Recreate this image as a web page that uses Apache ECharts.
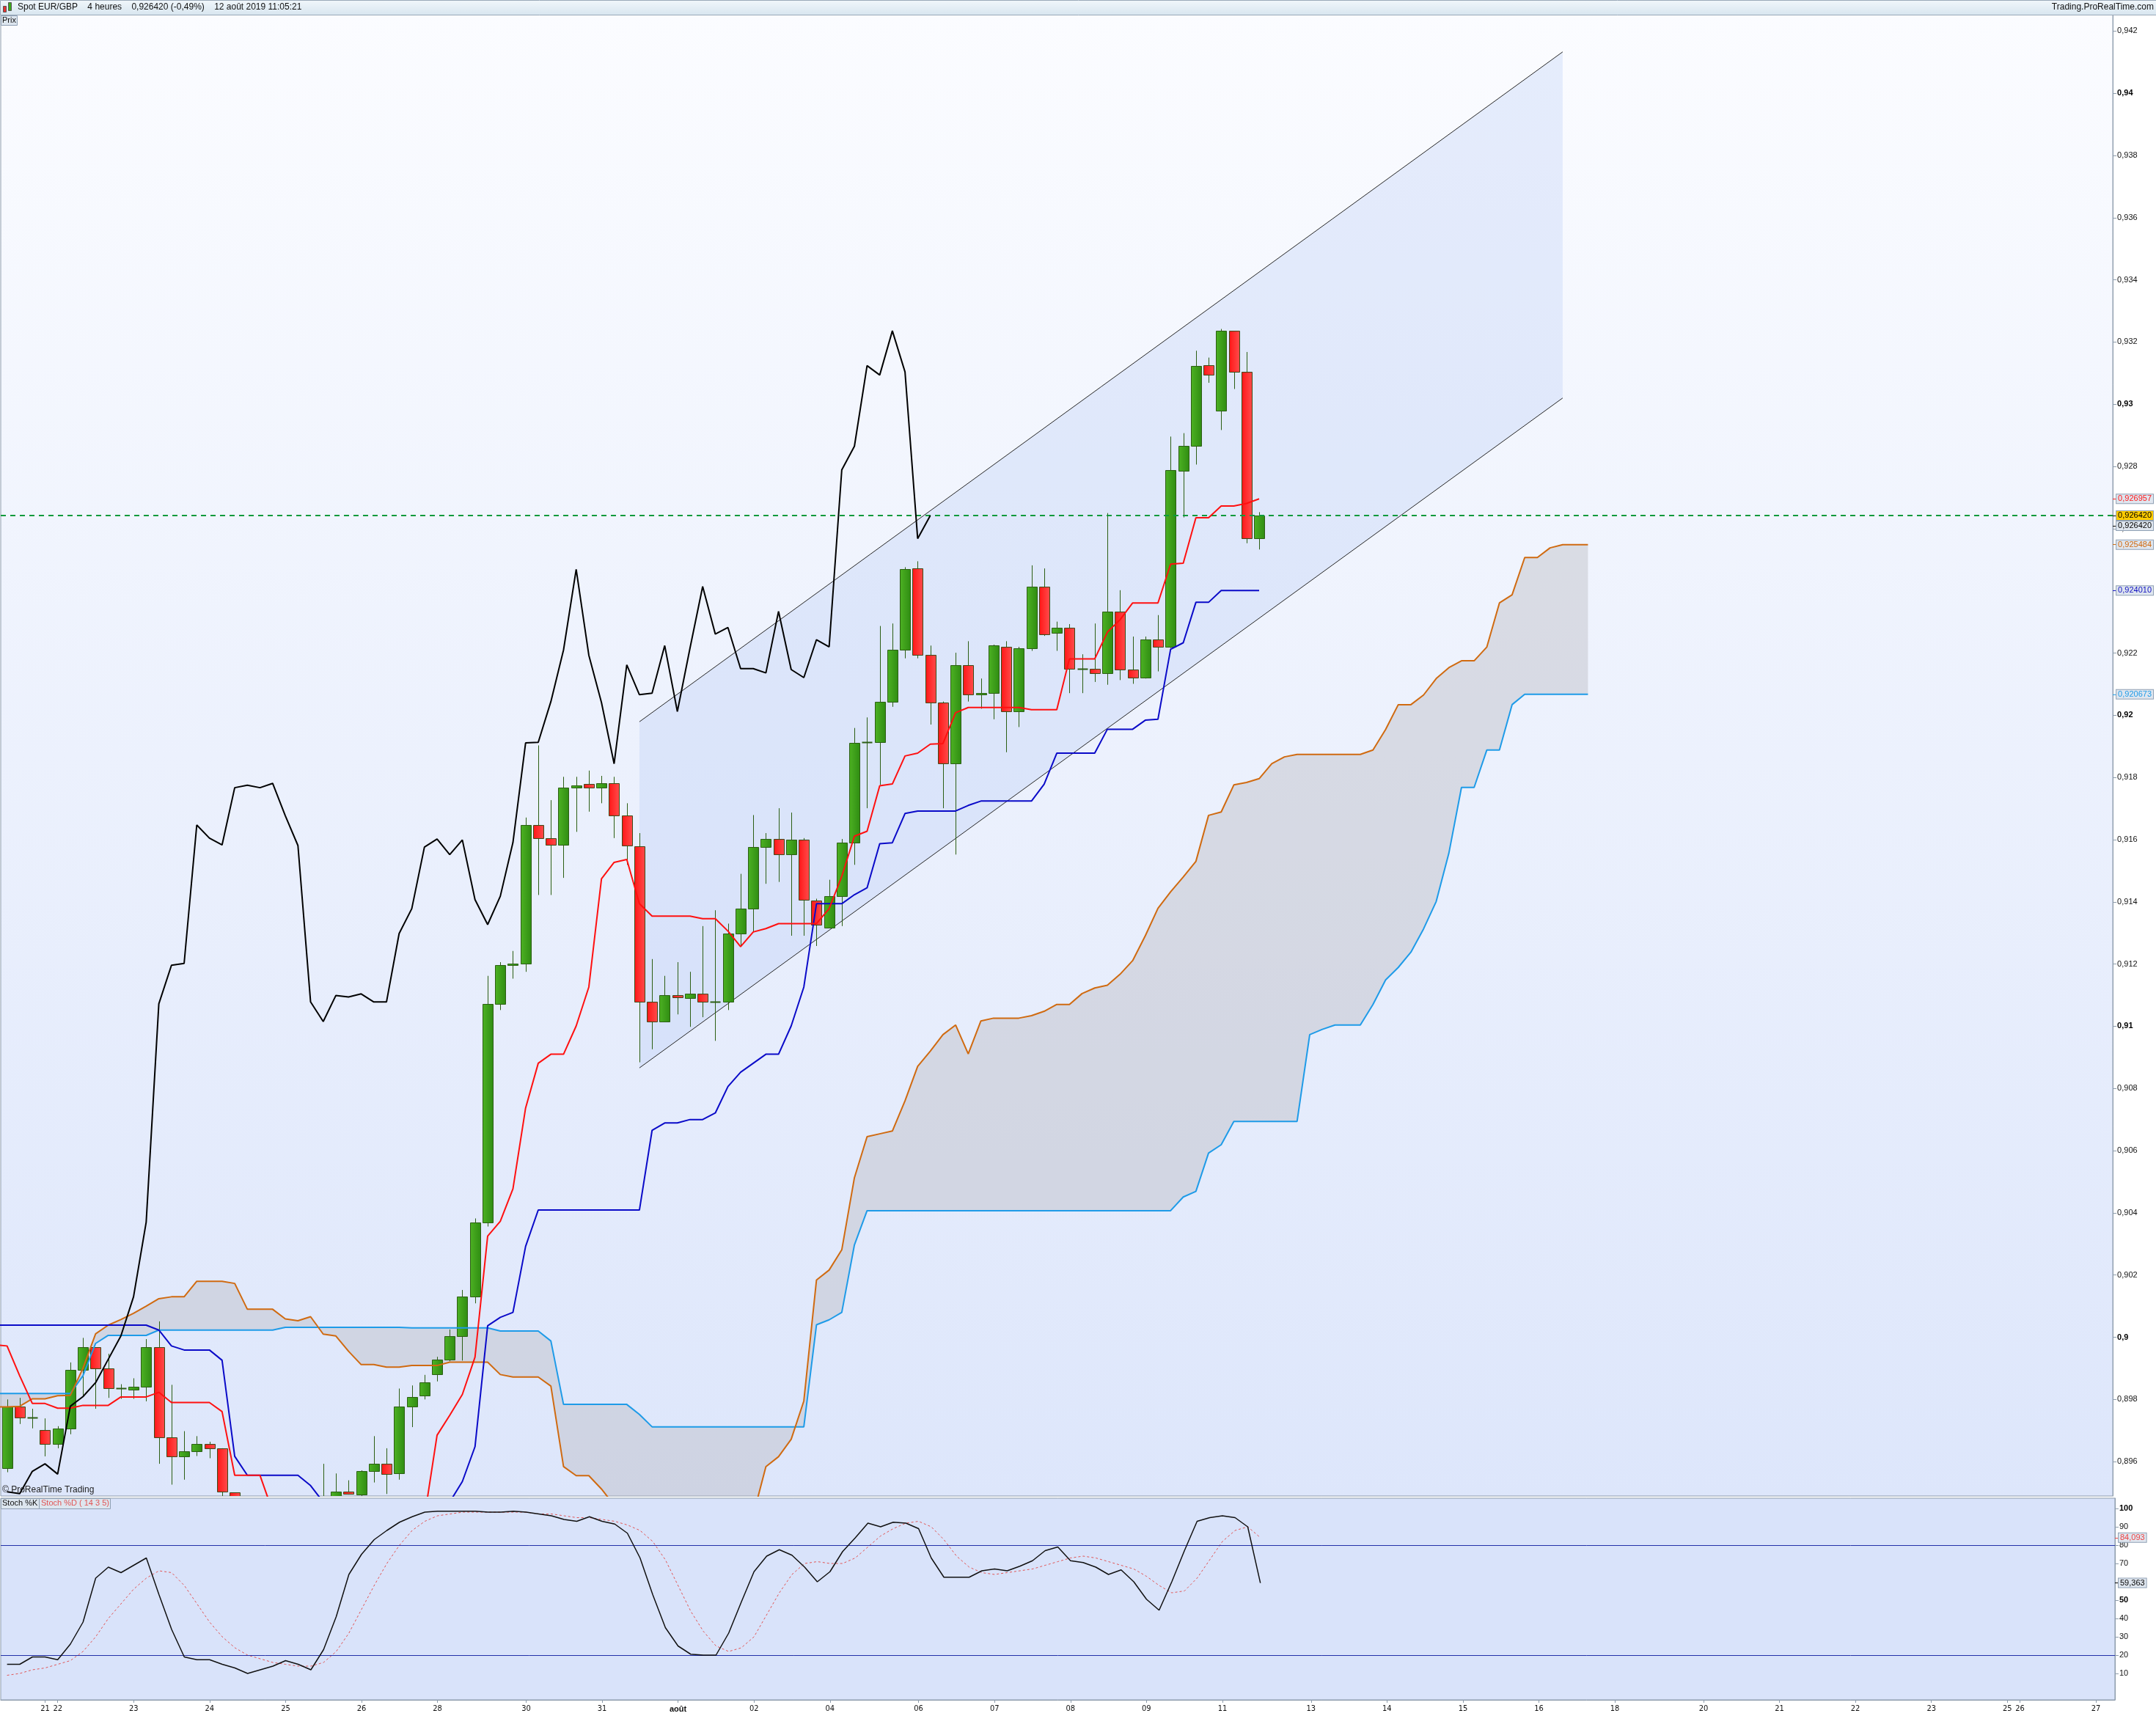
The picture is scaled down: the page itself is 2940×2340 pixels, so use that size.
<!DOCTYPE html>
<html><head><meta charset="utf-8">
<script src="https://cdn.jsdelivr.net/npm/echarts@6/dist/echarts.min.js"></script>
<style>html,body{margin:0;padding:0;background:#fff;}#c{width:2940px;height:2340px;}</style>
</head><body><div id="c"></div>
<script>
// ---------- DATA ----------
const slotCount = 167;
const xTickSlots = [3,4,10,16,22,28,34,41,47,53,59,65,72,78,84,90,96,103,109,115,121,127,134,140,146,152,158,159,165];
const xTickLabels = ['21','22','23','24','25','26','28','30','31','août','02','04','06','07','08','09','11','13','14','15','16','18','20','21','22','23','25','26','27'];

const candleOpen = [0.89578,0.89776,0.89741,0.89701,0.89656,0.89706,0.89894,0.89968,0.89899,0.89835,
0.89831,0.89842,0.89968,0.89677,0.89618,0.89633,0.89656,0.89643,0.89501,0.89440,
0.89380,0.89410,0.89360,0.89390,0.89430,0.89400,0.89460,0.89503,0.89495,0.89569,
0.89593,0.89562,0.89776,0.89812,0.89880,0.89929,0.90004,0.90130,0.90370,0.91072,
0.91196,0.91202,0.91647,0.91605,0.91583,0.91767,0.91778,0.91767,0.91781,0.91677,
0.91578,0.91078,0.91015,0.91099,0.91091,0.91104,0.91078,0.91078,0.91298,0.91378,
0.91576,0.91602,0.91552,0.91599,0.91403,0.91318,0.91418,0.91591,0.91913,0.91913,
0.92044,0.92210,0.92472,0.92193,0.92041,0.91844,0.92162,0.92066,0.92071,0.92220,
0.92012,0.92216,0.92414,0.92265,0.92282,0.92150,0.92150,0.92136,0.92334,0.92147,
0.92121,0.92243,0.92220,0.92787,0.92865,0.93126,0.92980,0.93236,0.93104,0.92568];
const candleHigh = [0.89800,0.89805,0.89770,0.89739,0.89714,0.89919,0.89998,0.89968,0.89947,0.89849,
0.89868,0.89994,0.90051,0.89847,0.89698,0.89682,0.89664,0.89643,0.89501,0.89460,
0.89440,0.89450,0.89420,0.89460,0.89470,0.89593,0.89562,0.89540,0.89572,0.89682,
0.89643,0.89835,0.89845,0.89879,0.89937,0.90025,0.90152,0.90382,0.91162,0.91206,
0.91242,0.91671,0.91903,0.91727,0.91802,0.91802,0.91822,0.91805,0.91802,0.91717,
0.91621,0.91216,0.91162,0.91206,0.91175,0.91322,0.91373,0.91330,0.91490,0.91679,
0.91621,0.91701,0.91687,0.91605,0.91410,0.91471,0.91602,0.91959,0.91993,0.92287,
0.92295,0.92476,0.92495,0.92224,0.92044,0.92201,0.92238,0.92118,0.92227,0.92238,
0.92220,0.92482,0.92472,0.92301,0.92293,0.92196,0.92295,0.92650,0.92402,0.92253,
0.92253,0.92322,0.92896,0.92907,0.93172,0.93150,0.93242,0.93236,0.93168,0.92653];
const candleLow = [0.89566,0.89721,0.89707,0.89617,0.89643,0.89688,0.89813,0.89770,0.89805,0.89802,
0.89802,0.89794,0.89593,0.89526,0.89542,0.89618,0.89611,0.89470,0.89400,0.89350,
0.89300,0.89330,0.89280,0.89340,0.89370,0.89360,0.89420,0.89494,0.89487,0.89533,
0.89496,0.89542,0.89711,0.89800,0.89858,0.89923,0.89925,0.90109,0.90356,0.91052,
0.91153,0.91175,0.91422,0.91422,0.91477,0.91625,0.91690,0.91717,0.91605,0.91519,
0.90884,0.90926,0.91015,0.91038,0.90998,0.91029,0.90953,0.91052,0.91258,0.91303,
0.91458,0.91464,0.91291,0.91291,0.91258,0.91318,0.91322,0.91519,0.91701,0.91776,
0.92027,0.92183,0.92183,0.91970,0.91701,0.91552,0.92044,0.92021,0.91987,0.91881,
0.91962,0.92207,0.92255,0.92207,0.92071,0.92071,0.92107,0.92098,0.92113,0.92101,
0.92118,0.92141,0.92216,0.92636,0.92806,0.93069,0.92917,0.93049,0.92553,0.92533];
const candleClose = [0.89776,0.89741,0.89741,0.89656,0.89706,0.89894,0.89968,0.89899,0.89835,0.89835,
0.89842,0.89968,0.89677,0.89618,0.89633,0.89656,0.89643,0.89503,0.89440,0.89380,
0.89410,0.89360,0.89390,0.89430,0.89400,0.89460,0.89503,0.89497,0.89569,0.89593,
0.89560,0.89778,0.89809,0.89854,0.89929,0.90004,0.90130,0.90370,0.91072,0.91196,
0.91202,0.91647,0.91605,0.91583,0.91767,0.91775,0.91767,0.91781,0.91677,0.91581,
0.91078,0.91015,0.91099,0.91094,0.91104,0.91078,0.91078,0.91298,0.91378,0.91576,
0.91602,0.91552,0.91599,0.91407,0.91327,0.91418,0.91591,0.91911,0.91913,0.92044,
0.92210,0.92469,0.92193,0.92041,0.91844,0.92162,0.92066,0.92071,0.92224,0.92012,
0.92216,0.92414,0.92261,0.92282,0.92150,0.92150,0.92136,0.92334,0.92147,0.92121,
0.92243,0.92220,0.92789,0.92865,0.93124,0.93094,0.93236,0.93104,0.92568,0.92642];

// Ichimoku lines, values from slot 0; value at slot -1 read at the left edge
const tenkanEdge = 0.89976, kijunEdge = 0.90039, senkouAEdge = 0.89776, senkouBEdge = 0.89819;
const tenkan = [0.89972,0.89876,0.89787,0.89787,0.89772,0.89772,0.89781,0.89781,0.89781,0.89808,
0.89808,0.89808,0.89823,0.89790,0.89790,0.89790,0.89790,0.89761,0.89556,0.89556,
0.89556,0.89440,0.89410,0.89400,0.89380,0.89380,0.89370,0.89370,0.89370,0.89380,
0.89390,0.89400,0.89410,0.89420,0.89685,0.89749,0.89816,0.89936,0.90325,0.90373,
0.90477,0.90737,0.90881,0.90910,0.90910,0.91001,0.91126,0.91474,0.91527,0.91536,
0.91394,0.91354,0.91354,0.91354,0.91354,0.91346,0.91346,0.91306,0.91256,0.91303,
0.91314,0.91330,0.91330,0.91330,0.91330,0.91378,0.91482,0.91611,0.91627,0.91773,
0.91779,0.91869,0.91878,0.91907,0.91909,0.92008,0.92025,0.92025,0.92025,0.92025,
0.92025,0.92018,0.92018,0.92018,0.92181,0.92181,0.92181,0.92267,0.92307,0.92361,
0.92361,0.92361,0.92486,0.92489,0.92635,0.92635,0.92673,0.92673,0.92681,0.926957];
const kijun = [0.90039,0.90039,0.90039,0.90039,0.90039,0.90039,0.90039,0.90039,0.90039,0.90039,
0.90039,0.90039,0.90023,0.89972,0.89959,0.89959,0.89959,0.89926,0.89617,0.89556,
0.89556,0.89556,0.89556,0.89556,0.89523,0.89470,0.89420,0.89410,0.89400,0.89400,
0.89400,0.89400,0.89400,0.89410,0.89430,0.89470,0.89536,0.89648,0.90037,0.90064,
0.90080,0.90292,0.90409,0.90409,0.90409,0.90409,0.90409,0.90409,0.90409,0.90409,
0.90409,0.90665,0.90689,0.90689,0.90700,0.90700,0.90721,0.90806,0.90852,0.90881,
0.90910,0.90910,0.91001,0.91126,0.91394,0.91394,0.91394,0.91423,0.91445,0.91587,
0.91590,0.91684,0.91692,0.91692,0.91692,0.91692,0.91710,0.91724,0.91724,0.91724,
0.91724,0.91724,0.91778,0.91878,0.91878,0.91878,0.91878,0.91955,0.91955,0.91955,
0.91984,0.91987,0.92212,0.92233,0.92363,0.92363,0.92401,0.92401,0.92401,0.92401];
const chikou = [0.89503,0.89497,0.89569,0.89593,0.89560,0.89778,0.89809,0.89854,0.89929,0.90004,
0.90130,0.90370,0.91072,0.91196,0.91202,0.91647,0.91605,0.91583,0.91767,0.91775,
0.91767,0.91781,0.91677,0.91581,0.91078,0.91015,0.91099,0.91094,0.91104,0.91078,
0.91078,0.91298,0.91378,0.91576,0.91602,0.91552,0.91599,0.91407,0.91327,0.91418,
0.91591,0.91911,0.91913,0.92044,0.92210,0.92469,0.92193,0.92041,0.91844,0.92162,
0.92066,0.92071,0.92224,0.92012,0.92216,0.92414,0.92261,0.92282,0.92150,0.92150,
0.92136,0.92334,0.92147,0.92121,0.92243,0.92220,0.92789,0.92865,0.93124,0.93094,
0.93236,0.93104,0.92568,0.92642];
const senkouA = [0.89776,0.89778,0.89802,0.89802,0.89812,0.89813,0.89900,0.90011,0.90039,0.90057,
0.90077,0.90100,0.90124,0.90130,0.90130,0.90180,0.90180,0.90180,0.90173,0.90090,
0.90090,0.90090,0.90059,0.90053,0.90066,0.90010,0.90004,0.89955,0.89912,0.89912,
0.89904,0.89904,0.89909,0.89909,0.89909,0.89920,0.89920,0.89920,0.89920,0.89880,
0.89872,0.89872,0.89872,0.89843,0.89584,0.89555,0.89555,0.89512,0.89460,0.89440,
0.89430,0.89420,0.89420,0.89420,0.89420,0.89420,0.89420,0.89420,0.89420,0.89428,
0.89584,0.89616,0.89672,0.89795,0.90184,0.90216,0.90281,0.90513,0.90645,0.90654,
0.90663,0.90760,0.90871,0.90920,0.90973,0.91004,0.90911,0.91017,0.91026,0.91026,
0.91026,0.91034,0.91048,0.91070,0.91070,0.91105,0.91123,0.91132,0.91167,0.91211,
0.91291,0.91379,0.91432,0.91480,0.91530,0.91678,0.91689,0.91776,0.91784,0.91796,
0.91844,0.91866,0.91874,0.91874,0.91874,0.91874,0.91874,0.91874,0.91888,0.91954,
0.92034,0.92034,0.92065,0.92118,0.92153,0.92175,0.92175,0.92219,0.92361,0.92387,
0.92507,0.92507,0.92538,0.925484,0.925484,0.925484];
const senkouB = [0.89819,0.89819,0.89819,0.89819,0.89819,0.89819,0.89876,0.89980,0.90006,0.90006,
0.90006,0.90006,0.90023,0.90023,0.90023,0.90023,0.90023,0.90023,0.90023,0.90023,
0.90023,0.90023,0.90032,0.90032,0.90032,0.90032,0.90032,0.90032,0.90032,0.90032,
0.90032,0.90032,0.90030,0.90030,0.90030,0.90030,0.90030,0.90030,0.90030,0.90020,
0.90020,0.90020,0.90020,0.89988,0.89784,0.89784,0.89784,0.89784,0.89784,0.89784,
0.89752,0.89712,0.89712,0.89712,0.89712,0.89712,0.89712,0.89712,0.89712,0.89712,
0.89712,0.89712,0.89712,0.89712,0.90040,0.90056,0.90080,0.90297,0.90407,0.90407,
0.90407,0.90407,0.90407,0.90407,0.90407,0.90407,0.90407,0.90407,0.90407,0.90407,
0.90407,0.90407,0.90407,0.90407,0.90407,0.90407,0.90407,0.90407,0.90407,0.90407,
0.90407,0.90407,0.90407,0.90451,0.90469,0.90592,0.90619,0.90694,0.90694,0.90694,
0.90694,0.90694,0.90694,0.90973,0.90990,0.91004,0.91004,0.91004,0.91070,0.91149,
0.91189,0.91238,0.91313,0.91401,0.91556,0.91768,0.91768,0.91888,0.91888,0.92034,
0.920673,0.920673,0.920673,0.920673,0.920673,0.920673];

const stochK = [15,15,19,19,17.5,26,38,62,68,65,
69,73,53,34,19,17.5,17.5,15,13,10,
12,14,17,15,12,23,41,64,75,83,
88,92.5,95.5,98,98.5,98.5,98.5,98.5,98,98,
98.5,98,97,96,94,93,95.5,93,91.5,86.5,
73,53,35,25,20.5,20,20,32,49,65.5,
74,77.5,74.5,68,60,65.5,76.5,84,92,90,
92.5,92,89,73,62.5,62.5,62.5,66,67,66,
68.5,71.5,77,79,71.5,70.5,68,64,66.5,60,
50.5,44.5,60,77,93,95,96,95,90,59.363];
const stochD = [9,10,12,13,15,17,22,30,40,48,
56,62,66,65,58,48,38,30,24,20,
18,16,15,14,14,16,22,32,45,58,
70,80,88,93,96,97,98,98,98,98,
98,98,97,97,96,95,95,94,93,91,
88,82,72,58,44,33,25,22,24,30,
42,54,64,70,71,70,70,73,79,85,
89,92,93,90,83,74,68,65,64,65,
66,67,69,71,73,74,73,71,69,67,
63,58,54,55,62,72,82,88,90,84.093];

const channelSlots = [50, 123];
const channelUpper = [0.91979, 0.94133];
const channelLower = [0.90866, 0.93020];
const lastClose = 0.92642;

const priceTicks = [0.896,0.898,0.9,0.902,0.904,0.906,0.908,0.91,0.912,0.914,0.916,0.918,0.92,0.922,0.924,0.926,0.928,0.93,0.932,0.934,0.936,0.938,0.94,0.942];
const priceTickLabels = ['0,896','0,898','0,9','0,902','0,904','0,906','0,908','0,91','0,912','0,914','0,916','0,918','0,92','0,922','0,924','0,926','0,928','0,93','0,932','0,934','0,936','0,938','0,94','0,942'];
const stochTicks = [10,20,30,40,50,70,80,90,100];
const stochTickLabels = ['10','20','30','40','50','70','80','90','100'];
const stochLevels = [80, 20];

// ---------- LAYOUT ----------
const W = 2940;
const gridRight = 56;
const yMin = 0.894895, yMax = 0.942526;
const sMin = -4.4, sMax = 105.6;
const xMin = -0.5, xMax = slotCount - 0.5;
const axisGray = '#8c9bab';
const FONT = '"Liberation Sans", Arial, sans-serif';

const chart = echarts.init(document.getElementById('c'), null, {renderer: 'canvas'});

function nearestIdx(arr, v) {
  let b = 0, d = Infinity;
  arr.forEach((a, i) => { const e = Math.abs(a - v); if (e < d) { d = e; b = i; } });
  return b;
}
const pairs = (arr, start) => arr.map((v, i) => [start + i, v]);
const clipOf = cs => ({type: 'rect', shape: {x: cs.x, y: cs.y, width: cs.width, height: cs.height}});

function boxAxis(grid, min, max, vals, texts, color, bg, tickColor) {
  return {
    gridIndex: grid, type: 'value', min, max, position: 'right',
    axisLine: {show: false, onZero: false}, splitLine: {show: false},
    axisTick: {show: true, customValues: vals, length: 5, lineStyle: {color: tickColor, width: 1}},
    axisLabel: {
      customValues: vals, margin: 5,
      formatter: v => texts[nearestIdx(vals, v)],
      color, backgroundColor: bg, borderColor: '#8fa0b4', borderWidth: 1,
      padding: [1, 2, 0, 2], fontSize: 11, fontFamily: FONT
    },
    z: 10
  };
}

function bandSeries(slots, upper, lower, fill, z, strokeLines) {
  return {
    type: 'custom', xAxisIndex: 0, yAxisIndex: 0, z, silent: true,
    data: [[slots[0], upper[0]]],
    renderItem: (params, api) => {
      const up = slots.map((s, i) => api.coord([s, upper[i]]));
      const lo = slots.map((s, i) => api.coord([s, lower[i]]));
      const children = [{type: 'polygon', shape: {points: up.concat(lo.slice().reverse())}, style: {fill}}];
      if (strokeLines) {
        children.push({type: 'polyline', shape: {points: up}, style: {stroke: '#262626', lineWidth: 1, fill: null}});
        children.push({type: 'polyline', shape: {points: lo}, style: {stroke: '#262626', lineWidth: 1, fill: null}});
      }
      return {type: 'group', children, clipPath: clipOf(params.coordSys)};
    }
  };
}

function lineSeries(name, data, color, width, z, extra) {
  return Object.assign({
    name, type: 'line', xAxisIndex: 0, yAxisIndex: 0, data, symbol: 'none', z,
    lineStyle: {color, width}, silent: true, clip: true
  }, extra || {});
}

const gradUp = new echarts.graphic.LinearGradient(0, 0, 1, 0, [{offset: 0, color: '#4db223'}, {offset: 1, color: '#2f8c12'}]);
const gradDown = new echarts.graphic.LinearGradient(0, 0, 1, 0, [{offset: 0, color: '#ff1616'}, {offset: 1, color: '#ff4d4d'}]);

const candleSeries = {
  type: 'custom', xAxisIndex: 0, yAxisIndex: 0, z: 3, silent: true,
  data: candleOpen.map((o, i) => [i, o, candleClose[i], candleLow[i], candleHigh[i]]),
  encode: {x: 0, y: [1, 2, 3, 4]},
  renderItem: (params, api) => {
    const i = api.value(0), o = api.value(1), c = api.value(2), l = api.value(3), h = api.value(4);
    const pO = api.coord([i, o]), pC = api.coord([i, c]), pL = api.coord([i, l]), pH = api.coord([i, h]);
    const x = Math.round(pO[0]) + 0.5;
    const up = c >= o;
    const top = Math.round(Math.min(pO[1], pC[1])) + 0.5;
    const bot = Math.round(Math.max(pO[1], pC[1])) + 0.5;
    const bw = 14;
    return {type: 'group', clipPath: clipOf(params.coordSys), children: [
      {type: 'line', shape: {x1: x, y1: pH[1], x2: x, y2: pL[1]}, style: {stroke: '#2c5f14', lineWidth: 1}},
      {type: 'rect', shape: {x: x - bw / 2, y: top, width: bw, height: Math.max(bot - top, 0)},
       style: {fill: up ? gradUp : gradDown, stroke: up ? '#2c5f14' : '#3d4a16', lineWidth: (bot - top) < 1 ? 2 : 1}}
    ]};
  }
};

const cloudSlots = [-1].concat(senkouA.map((_, i) => i));
const boldPrice = new Set(['0,9','0,91','0,92','0,93','0,94']);

const option = {
  animation: false,
  backgroundColor: '#ffffff',
  grid: [
    {left: 1, right: gridRight, top: 20, height: 2020, show: true, borderColor: axisGray, borderWidth: 1,
     backgroundColor: new echarts.graphic.LinearGradient(0, 0, 0, 1, [{offset: 0, color: '#fbfcff'}, {offset: 1, color: '#dde6fb'}])},
    {left: 1, right: gridRight, top: 2043, height: 275, show: true, borderColor: axisGray, borderWidth: 1,
     backgroundColor: '#d9e3fa'}
  ],
  xAxis: [
    {gridIndex: 0, type: 'value', min: xMin, max: xMax, show: false, axisLine: {onZero: false}},
    {gridIndex: 1, type: 'value', min: xMin, max: xMax, position: 'bottom',
     axisLine: {show: true, onZero: false, lineStyle: {color: axisGray}},
     axisTick: {show: true, customValues: xTickSlots, length: 4, lineStyle: {color: axisGray}},
     axisLabel: {customValues: xTickSlots, margin: 7, fontSize: 11, color: '#111',
       fontFamily: '"Liberation Sans Narrow", "DejaVu Sans Condensed", Arial',
       formatter: v => { const t = xTickLabels[nearestIdx(xTickSlots, v)]; return t === 'août' ? '{b|août}' : t; },
       rich: {b: {fontWeight: 'bold', fontSize: 11, fontFamily: '"Liberation Sans Narrow", Arial', color: '#111'}}},
     splitLine: {show: false}}
  ],
  yAxis: [
    {gridIndex: 0, type: 'value', position: 'right', min: yMin, max: yMax,
     axisLine: {show: true, onZero: false, lineStyle: {color: axisGray}},
     axisTick: {show: true, customValues: priceTicks, length: 5, lineStyle: {color: axisGray}},
     axisLabel: {customValues: priceTicks, margin: 6, fontSize: 11, color: '#111', fontFamily: FONT,
       formatter: v => { const t = priceTickLabels[nearestIdx(priceTicks, v)]; return boldPrice.has(t) ? '{b|' + t + '}' : t; },
       rich: {b: {fontWeight: 'bold', fontSize: 11, fontFamily: FONT, color: '#000'}}},
     splitLine: {show: false}},
    {gridIndex: 1, type: 'value', position: 'right', min: sMin, max: sMax,
     axisLine: {show: true, onZero: false, lineStyle: {color: axisGray}},
     axisTick: {show: true, customValues: stochTicks, length: 5, lineStyle: {color: axisGray}},
     axisLabel: {customValues: stochTicks, margin: 6, fontSize: 11, color: '#111', fontFamily: FONT,
       formatter: v => { const t = stochTickLabels[nearestIdx(stochTicks, v)]; return (t === '100' || t === '50') ? '{b|' + t + '}' : t; },
       rich: {b: {fontWeight: 'bold', fontSize: 11, fontFamily: FONT, color: '#000'}}},
     splitLine: {show: false}},
    boxAxis(0, yMin, yMax, [0.926957], ['0,926957'], '#ff1a1a', '#dfe6ef', '#ff1a1a'),
    boxAxis(0, yMin, yMax, [lastClose], ['0,926420'], '#000', '#ffcc00', '#000'),
    boxAxis(0, yMin, yMax, [lastClose - 0.00033], ['0,926420'], '#000', '#dfe6ef', '#000'),
    boxAxis(0, yMin, yMax, [0.925484], ['0,925484'], '#d06a10', '#dfe6ef', '#d06a10'),
    boxAxis(0, yMin, yMax, [0.924010], ['0,924010'], '#1010c0', '#dfe6ef', '#1010c0'),
    boxAxis(0, yMin, yMax, [0.920673], ['0,920673'], '#1e9be8', '#dfe6ef', '#1e9be8'),
    boxAxis(1, sMin, sMax, [84.093], ['84,093'], '#ee4444', '#dfe6ef', '#ee4444'),
    boxAxis(1, sMin, sMax, [59.363], ['59,363'], '#000', '#dfe6ef', '#000')
  ],
  series: [
    bandSeries(cloudSlots, [senkouAEdge].concat(senkouA), [senkouBEdge].concat(senkouB), 'rgba(185,185,192,0.42)', 1, false),
    bandSeries(channelSlots, channelUpper, channelLower, 'rgba(175,198,245,0.28)', 2, true),
    candleSeries,
    lineSeries('Senkou B', [[-1, senkouBEdge]].concat(pairs(senkouB, 0)), '#1e9be8', 2, 4),
    lineSeries('Senkou A', [[-1, senkouAEdge]].concat(pairs(senkouA, 0)), '#d06a10', 2, 4),
    lineSeries('Kijun', [[-1, kijunEdge]].concat(pairs(kijun, 0)), '#0a0ac8', 2, 5),
    lineSeries('Tenkan', [[-1, tenkanEdge]].concat(pairs(tenkan, 0)), '#ff1010', 2, 5),
    lineSeries('Chikou', pairs(chikou, 0), '#000000', 2, 6, {
      markLine: {silent: true, symbol: 'none', precision: 6, label: {show: false},
        lineStyle: {color: '#0f9a3c', type: [7, 6], width: 2},
        data: [{yAxis: lastClose}]}
    }),
    {type: 'line', name: 'Stoch %D', xAxisIndex: 1, yAxisIndex: 1, data: pairs(stochD, 0), symbol: 'none', z: 4,
     lineStyle: {color: '#e25555', width: 1, type: [3, 3]}, silent: true},
    {type: 'line', name: 'Stoch %K', xAxisIndex: 1, yAxisIndex: 1, data: pairs(stochK, 0), symbol: 'none', z: 5,
     lineStyle: {color: '#111', width: 1.5}, silent: true,
     markLine: {silent: true, symbol: 'none', precision: 3, label: {show: false}, lineStyle: {color: '#2330a8', type: 'solid', width: 1},
       data: stochLevels.map(v => ({yAxis: v}))}}
  ],
  graphic: [
    {type: 'rect', left: 0, top: 0, shape: {width: W, height: 20}, z: 100,
     style: {fill: new echarts.graphic.LinearGradient(0, 0, 0, 1, [{offset: 0, color: '#f1f7fb'}, {offset: 1, color: '#d7e5ef'}]), stroke: '#9aa9b8', lineWidth: 1}},
    {type: 'rect', left: 4, top: 8, shape: {width: 4, height: 8}, z: 101, style: {fill: '#e83030', stroke: '#555', lineWidth: 1}},
    {type: 'rect', left: 11, top: 3, shape: {width: 4, height: 11}, z: 101, style: {fill: '#3caa1a', stroke: '#555', lineWidth: 1}},
    {type: 'text', left: 24, top: 4, z: 101, style: {text: 'Spot EUR/GBP    4 heures    0,926420 (-0,49%)    12 août 2019 11:05:21', fill: '#111', font: '12px ' + FONT}},
    {type: 'text', right: 3, top: 4, z: 101, style: {text: 'Trading.ProRealTime.com', fill: '#111', font: '12px ' + FONT}},
    {type: 'rect', left: 1, top: 21, shape: {width: 22, height: 13}, z: 101, style: {fill: '#dde6ef', stroke: '#8fa0b4', lineWidth: 1}},
    {type: 'text', left: 3, top: 22, z: 102, style: {text: 'Prix', fill: '#111', font: '11px ' + FONT}},
    {type: 'text', left: 3, top: 2026, z: 102, style: {text: '© ProRealTime Trading', fill: '#222', font: '12px ' + FONT}},
    {type: 'rect', left: 1, top: 2043, shape: {width: 52, height: 14}, z: 101, style: {fill: '#dde6ef', stroke: '#8fa0b4', lineWidth: 1}},
    {type: 'text', left: 3, top: 2044, z: 102, style: {text: 'Stoch %K', fill: '#111', font: '11px ' + FONT}},
    {type: 'rect', left: 53, top: 2043, shape: {width: 97, height: 14}, z: 101, style: {fill: '#dde6ef', stroke: '#8fa0b4', lineWidth: 1}},
    {type: 'text', left: 56, top: 2044, z: 102, style: {text: 'Stoch %D ( 14 3 5)', fill: '#e25555', font: '11px ' + FONT}}
  ]
};
chart.setOption(option);
</script>
</body></html>
